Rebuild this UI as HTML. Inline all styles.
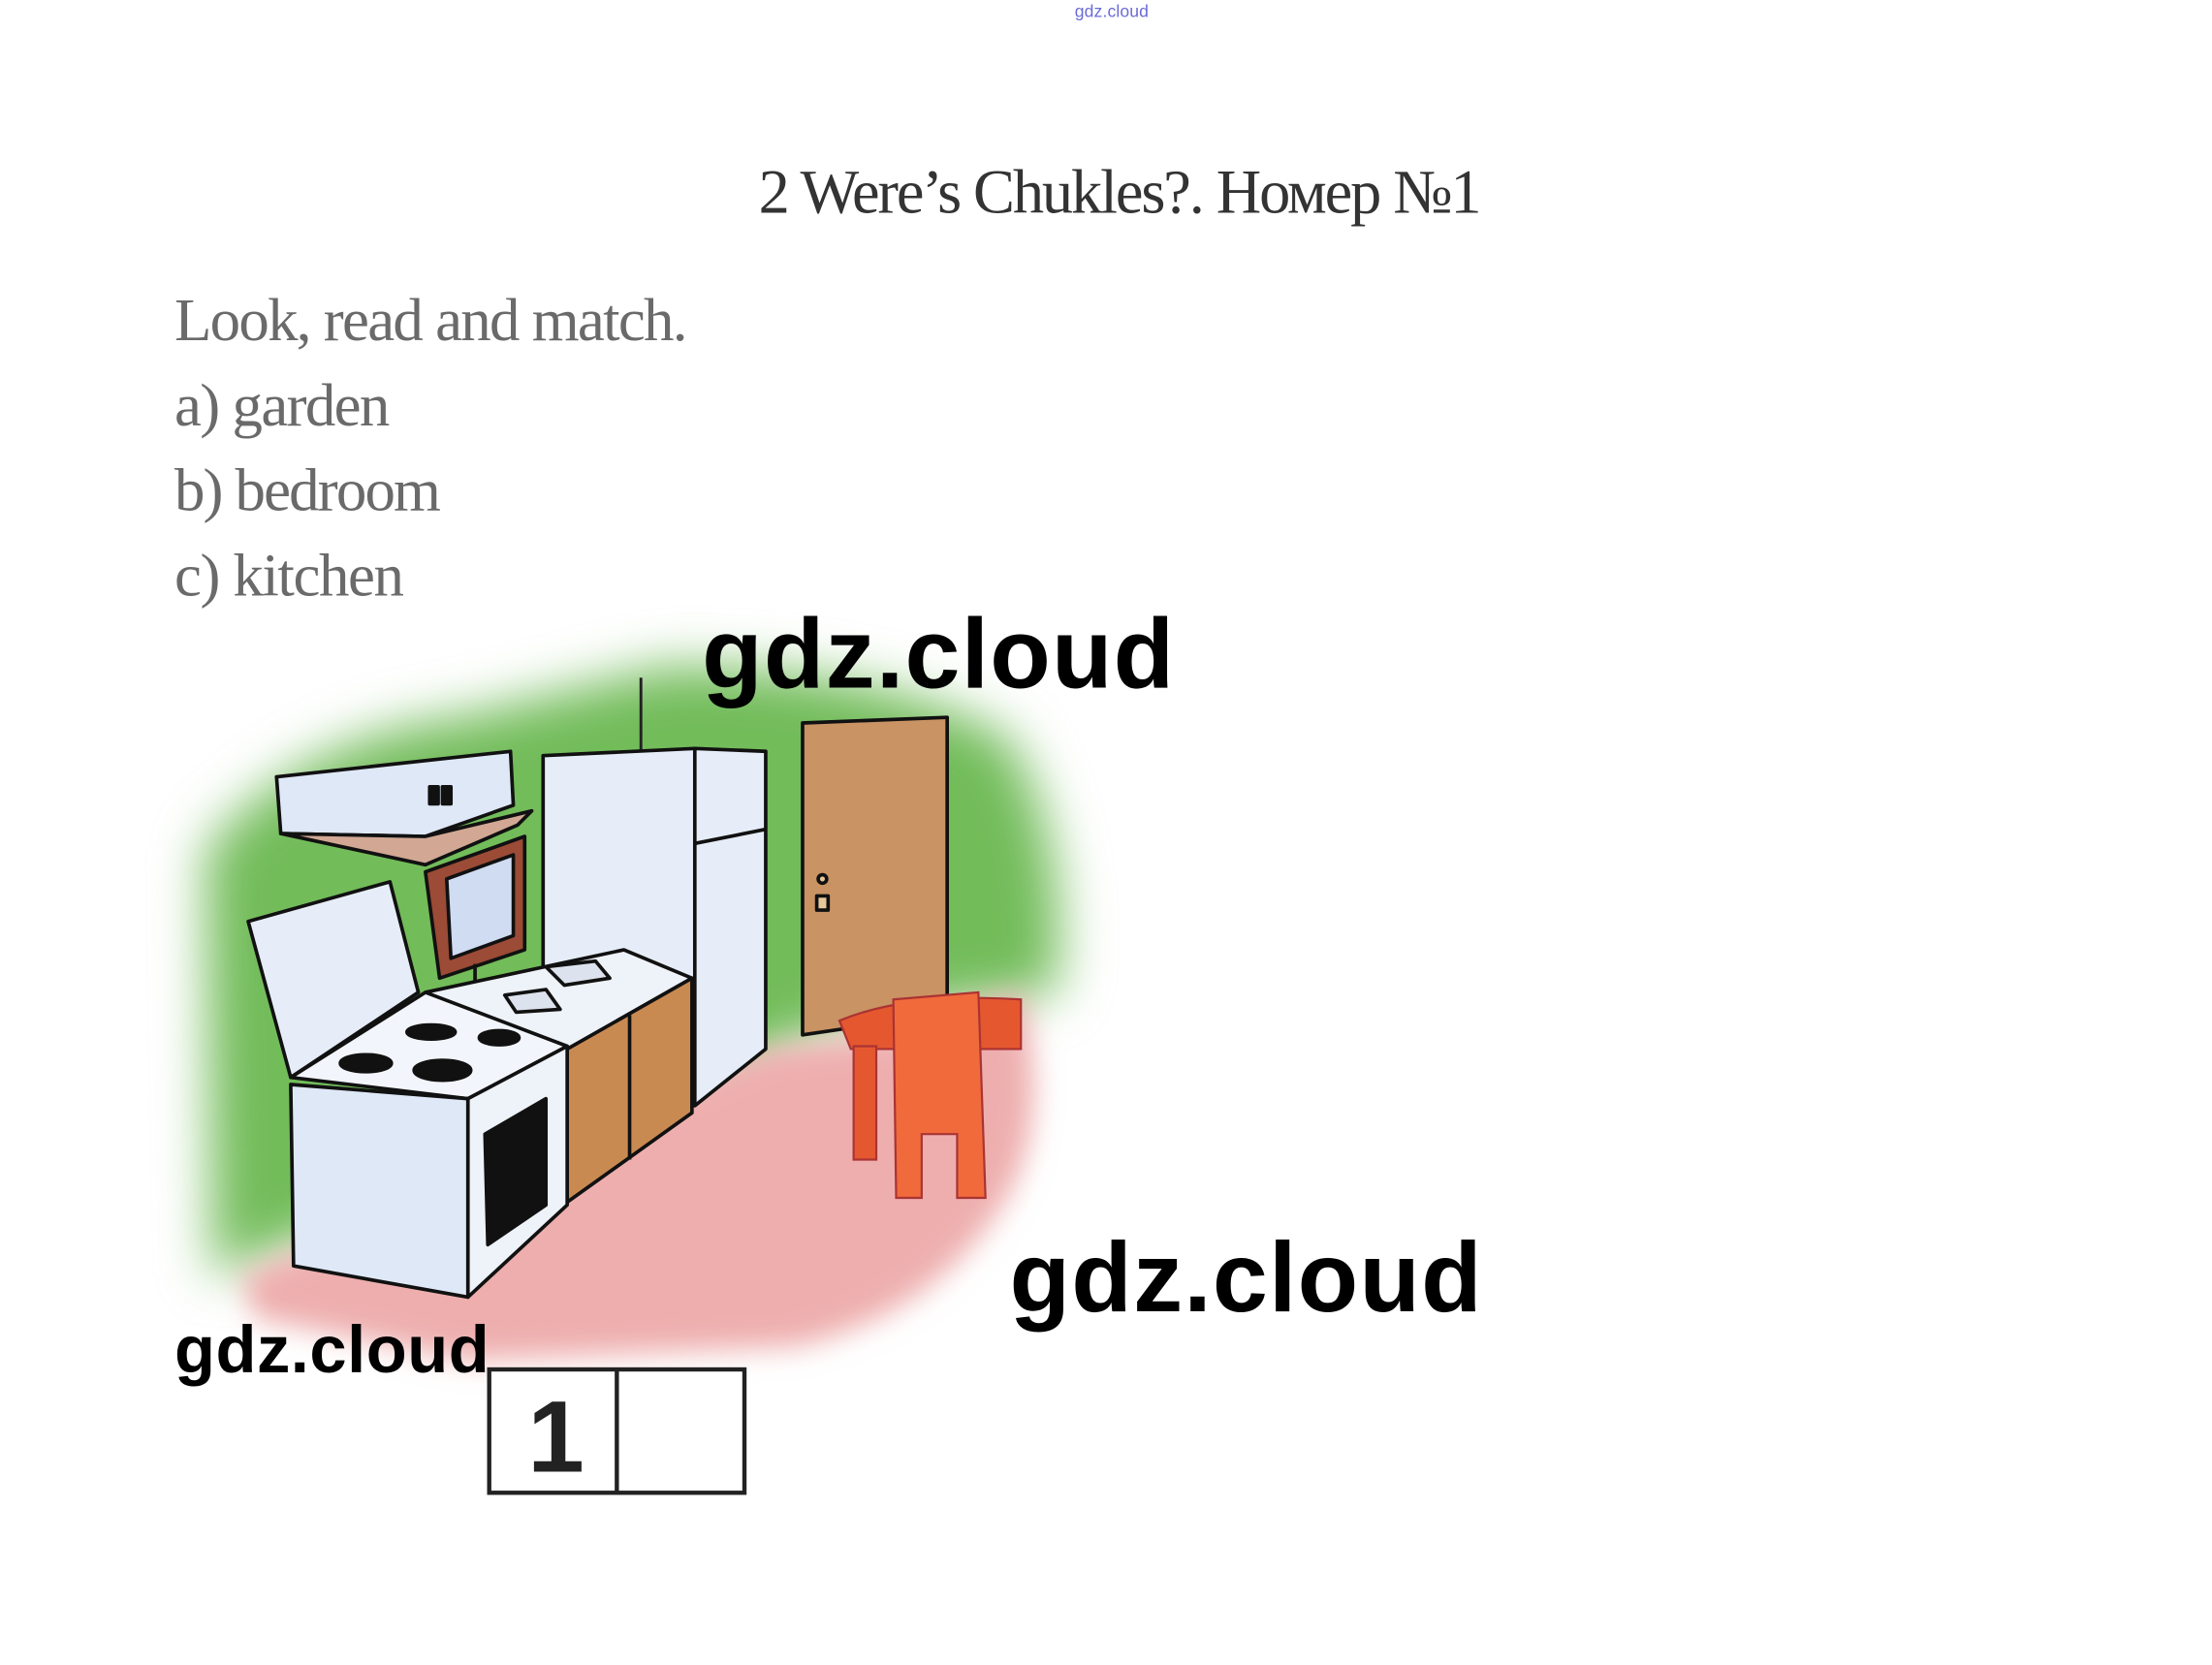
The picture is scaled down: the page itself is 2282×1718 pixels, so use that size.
<!DOCTYPE html>
<html><head><meta charset="utf-8"><style>
html,body{margin:0;padding:0;background:#fff;}
svg{display:block;}
</style></head><body>
<svg width="2282" height="1718" viewBox="0 0 1560 1174.5" xmlns="http://www.w3.org/2000/svg">
<defs>
<filter id="bl" x="-20%" y="-20%" width="140%" height="140%"><feGaussianBlur stdDeviation="18"/></filter>
<filter id="bl2" x="-20%" y="-20%" width="140%" height="140%"><feGaussianBlur stdDeviation="10"/></filter>
</defs>
<rect width="1560" height="1174.5" fill="#fff"/>
<text x="758" y="12" font-family="Liberation Sans, sans-serif" font-size="12" fill="#6b6bd6" textLength="52">gdz.cloud</text>
<text x="535" y="150" font-family="Liberation Serif, serif" font-size="44" fill="#333" textLength="510">2 Were’s Chukles?. Номер №1</text>
<g font-family="Liberation Serif, serif" font-size="43" fill="#6a6a6a">
<text x="123" y="240" textLength="362">Look, read and match.</text>
<text x="123" y="300" textLength="152">a) garden</text>
<text x="123" y="360" textLength="188">b) bedroom</text>
<text x="123" y="420" textLength="162">c) kitchen</text>
</g>
<!-- background green wall -->
<path d="M145 600 Q210 520 330 505 L470 470 Q620 470 710 520 Q755 590 745 700 L600 720 L150 900 Z" fill="#72bc5a" filter="url(#bl)"/>
<!-- pink floor -->
<path d="M170 900 L540 740 L620 730 L720 700 Q745 800 700 860 Q650 930 560 950 L330 960 L180 930 Z" fill="#eeaeae" filter="url(#bl2)"/>
<line x1="452" y1="478" x2="452" y2="530" stroke="#222" stroke-width="2"/>
<g stroke="#111" stroke-width="2.5" stroke-linejoin="round">
<!-- door -->
<path d="M566 510 L668 506 L668 715 L566 730 Z" fill="#c99363"/>
<circle cx="580" cy="620" r="3" fill="#e7c89b"/><rect x="576" y="632" width="8" height="10" fill="#e7c89b"/>
<!-- hood -->
<path d="M195 548 L360 530 L362 568 L300 590 L198 588 Z" fill="#dfe8f7"/>
<path d="M198 588 L300 590 L375 572 L365 582 L300 610 Z" fill="#d2a894"/>
<rect x="303" y="555" width="6" height="12" fill="#111"/><rect x="312" y="555" width="6" height="12" fill="#111"/>
<!-- window behind sink -->
<path d="M300 615 L370 590 L370 670 L310 690 Z" fill="#9b4b36"/>
<path d="M315 620 L362 603 L362 660 L318 676 Z" fill="#cfdcf2"/>
<line x1="335" y1="680" x2="335" y2="700"/>
<!-- fridge -->
<path d="M383 533 L490 528 L540 530 L540 740 L490 780 L383 770 Z" fill="#e6edf8"/>
<path d="M490 528 L490 780" fill="none"/>
<path d="M490 595 L540 585" fill="none"/>
<!-- counter/sink top -->
<path d="M300 700 L440 670 L488 690 L400 740 L330 740 Z" fill="#eef2f9"/>
<path d="M385 682 L420 678 L430 690 L398 695 Z" fill="#dde3ee"/>
<path d="M356 702 L385 698 L395 712 L364 714 Z" fill="#dde3ee"/>
<!-- cabinets -->
<path d="M400 740 L488 690 L488 785 L400 848 Z" fill="#c98a52"/>
<path d="M444 716 L444 818" fill="none"/>
<!-- stove lid -->
<path d="M175 650 L275 622 L295 700 L205 760 Z" fill="#e6edf8"/>
<!-- stove top -->
<path d="M205 760 L300 700 L400 738 L330 775 Z" fill="#f2f5fb"/>
<ellipse cx="258" cy="750" rx="18" ry="6" fill="#111"/><ellipse cx="312" cy="755" rx="20" ry="7" fill="#111"/>
<ellipse cx="304" cy="728" rx="17" ry="5" fill="#111"/><ellipse cx="352" cy="732" rx="14" ry="5" fill="#111"/>
<!-- stove front/side -->
<path d="M205 765 L330 775 L330 915 L207 893 Z" fill="#dfe8f7"/>
<path d="M330 775 L400 738 L400 850 L330 915 Z" fill="#eef2f9"/>
<path d="M342 800 L385 775 L385 850 L344 878 Z" fill="#111"/>
</g>
<!-- chair/table -->
<g stroke="#a33" stroke-width="1.5">
<path d="M592 720 Q640 700 720 705 L720 740 Q650 740 600 740 Z" fill="#e5582f"/>
<rect x="602" y="738" width="16" height="80" fill="#e5582f"/>
<path d="M630 705 L690 700 L695 845 L675 845 L675 800 L650 800 L650 845 L632 845 Z" fill="#f06a3c"/>
</g>
<!-- answer box -->
<g stroke="#222" stroke-width="3" fill="#fff">
<rect x="345" y="966" width="180" height="87"/>
<line x1="435" y1="966" x2="435" y2="1053"/>
</g>
<text x="372" y="1038" font-family="Liberation Sans, sans-serif" font-weight="bold" font-size="72" fill="#222">1</text>
<g font-family="Liberation Sans, sans-serif" font-weight="bold" fill="#000">
<text x="495" y="485" font-size="70" textLength="333">gdz.cloud</text>
<text x="712" y="925" font-size="70" textLength="333">gdz.cloud</text>
<text x="123" y="968" font-size="47" textLength="222">gdz.cloud</text>
</g>
</svg>
</body></html>
